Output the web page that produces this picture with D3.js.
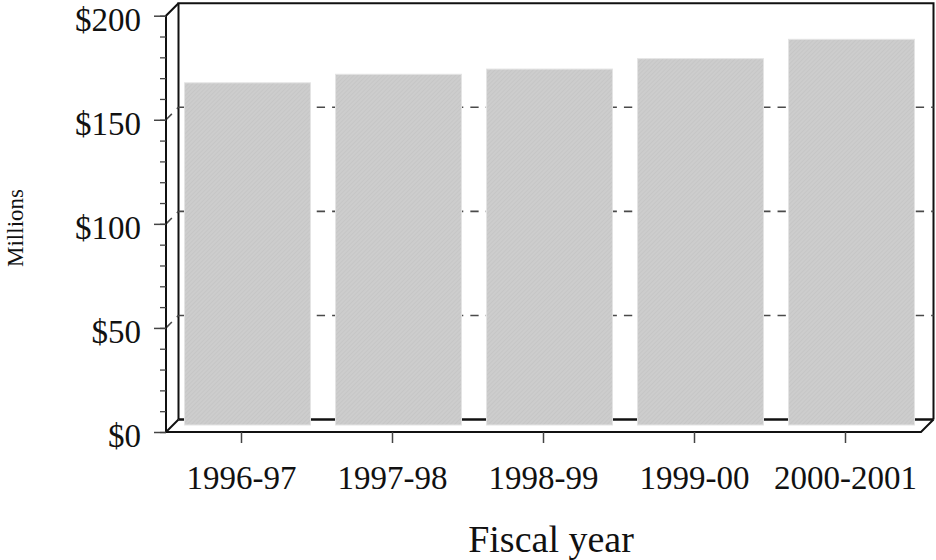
<!DOCTYPE html>
<html>
<head>
<meta charset="utf-8">
<script src="https://cdn.jsdelivr.net/npm/d3@7"></script>
<style>
  html, body { margin: 0; padding: 0; background: #fff; }
  svg { display: block; }
  text { font-family: "Liberation Serif", "DejaVu Serif", serif; fill: #111; }
</style>
</head>
<body>
<div id="chart"></div>
<script>
// data
const years = ['1996-97', '1997-98', '1998-99', '1999-00', '2000-2001'];
const spending = [164.4, 168.5, 171, 176, 185.3];
const majorTicks = [0, 50, 100, 150, 200];
const minorTicks = d3.range(0, 201, 10);
const gridValues = [50, 100, 150];

const width = 936, height = 560;
// 3d depth offset of the back wall
const depth = {x: 12.5, y: 12.5};
// bars sit a bit behind the front plane
const barShift = {x: 6, y: 7};

const svg = d3.select('#chart')
  .append('svg')
  .attr('width', width)
  .attr('height', height);

// hatched grey fill of the bars
const defs = svg.append('defs');
const pat = defs.append('pattern')
  .attr('id', 'hatch')
  .attr('patternUnits', 'userSpaceOnUse')
  .attr('width', 3)
  .attr('height', 3)
  .attr('patternTransform', 'rotate(45)');
pat.append('rect').attr('width', 3).attr('height', 3).attr('fill', '#cdcdcd');
pat.append('line').attr('x1', 0).attr('y1', 0).attr('x2', 0).attr('y2', 3)
  .attr('stroke', '#c1c1c1').attr('stroke-width', 1.2);

// front plane scales
const x = d3.scaleBand()
  .domain(years)
  .range([166, 921])
  .paddingInner(0)
  .paddingOuter(0);

const y = d3.scaleLinear()
  .domain([0, 200])
  .range([432, 15.7]);

// bar plane
const xBar = d3.scaleBand()
  .domain(years)
  .range([166 + barShift.x, 921 + barShift.x])
  .paddingInner(0.166)
  .paddingOuter(0.083);

const [x0, x1] = x.range();
const yTop = y(200), yBot = y(0);

const line = (pts) => d3.line()(pts);

// back wall
const back = svg.append('g')
  .attr('fill', 'none')
  .attr('stroke', '#111')
  .attr('stroke-width', 2);
back.append('path').attr('d', line([
  [x0 + depth.x, yBot - depth.y],
  [x0 + depth.x, yTop - depth.y],
  [x1 + depth.x, yTop - depth.y],
  [x1 + depth.x, yBot - depth.y]
]));

// dashed gridlines on the back wall, with their little slanted lead-in
const grid = svg.append('g')
  .attr('fill', 'none')
  .attr('stroke', '#4a4a4a')
  .attr('stroke-width', 1.6)
  .attr('stroke-dasharray', '8.3,7.06');
grid.selectAll('path.diag')
  .data(gridValues)
  .join('path')
  .attr('class', 'diag')
  .attr('d', d => line([[x0, y(d)], [x0 + depth.x, y(d) - depth.y]]));
grid.selectAll('path.flat')
  .data(gridValues)
  .join('path')
  .attr('class', 'flat')
  .attr('d', d => line([[x0 + depth.x, y(d) - depth.y], [x1 + depth.x, y(d) - depth.y]]));

// floor back edge
svg.append('path')
  .attr('d', line([[x0 + depth.x, yBot - depth.y], [x1 + depth.x, yBot - depth.y]]))
  .attr('stroke', '#111')
  .attr('stroke-width', 2.4)
  .attr('fill', 'none');

// bars
svg.append('g')
  .selectAll('rect')
  .data(spending)
  .join('rect')
  .attr('x', (d, i) => xBar(years[i]))
  .attr('width', xBar.bandwidth())
  .attr('y', d => y(d) - barShift.y)
  .attr('height', d => y(0) - y(d))
  .attr('fill', 'url(#hatch)')
  .attr('stroke', '#e4e4e4')
  .attr('stroke-width', 1);

// front frame: slanted corners, left axis line, floor front edge
const front = svg.append('g')
  .attr('fill', 'none')
  .attr('stroke', '#111')
  .attr('stroke-width', 2);
front.append('path').attr('d', line([[x0 + depth.x, yTop - depth.y], [x0, yTop], [x0, yBot], [x1, yBot], [x1 + depth.x, yBot - depth.y]]));
front.append('path').attr('d', line([[x0, yBot], [x0 + depth.x, yBot - depth.y]]));

// Y axis: minor ticks then major ticks with labels
const yMinor = svg.append('g')
  .attr('transform', `translate(${x0},0)`)
  .call(d3.axisLeft(y).tickValues(minorTicks).tickSize(6).tickFormat(''));
yMinor.select('.domain').remove();
yMinor.selectAll('.tick line').attr('stroke', '#444').attr('stroke-width', 1.3);

const yAxis = svg.append('g')
  .attr('transform', `translate(${x0},0)`)
  .call(d3.axisLeft(y).tickValues(majorTicks).tickSize(12).tickPadding(13).tickFormat(d => '$' + d));
yAxis.select('.domain').remove();
yAxis.selectAll('.tick line').attr('stroke', '#444').attr('stroke-width', 1.5);
yAxis.selectAll('.tick text')
  .attr('dy', '0.44em')
  .attr('font-size', 33)
  .attr('font-family', '"Liberation Serif", serif')
  .attr('fill', '#111');

// X axis
const xAxis = svg.append('g')
  .attr('transform', `translate(0,${yBot})`)
  .call(d3.axisBottom(x).tickSize(11).tickPadding(0));
xAxis.select('.domain').remove();
xAxis.selectAll('.tick line').attr('stroke', '#444').attr('stroke-width', 1.5);
xAxis.selectAll('.tick text')
  .attr('y', 57)
  .attr('dy', 0)
  .attr('font-size', 33)
  .attr('font-family', '"Liberation Serif", serif')
  .attr('fill', '#111');

// axis titles
svg.append('text')
  .attr('x', 551)
  .attr('y', 552)
  .attr('text-anchor', 'middle')
  .attr('font-size', 38)
  .text('Fiscal year');

svg.append('text')
  .attr('transform', 'translate(23,228) rotate(-90)')
  .attr('text-anchor', 'middle')
  .attr('font-size', 23)
  .text('Millions');
</script>
</body>
</html>
